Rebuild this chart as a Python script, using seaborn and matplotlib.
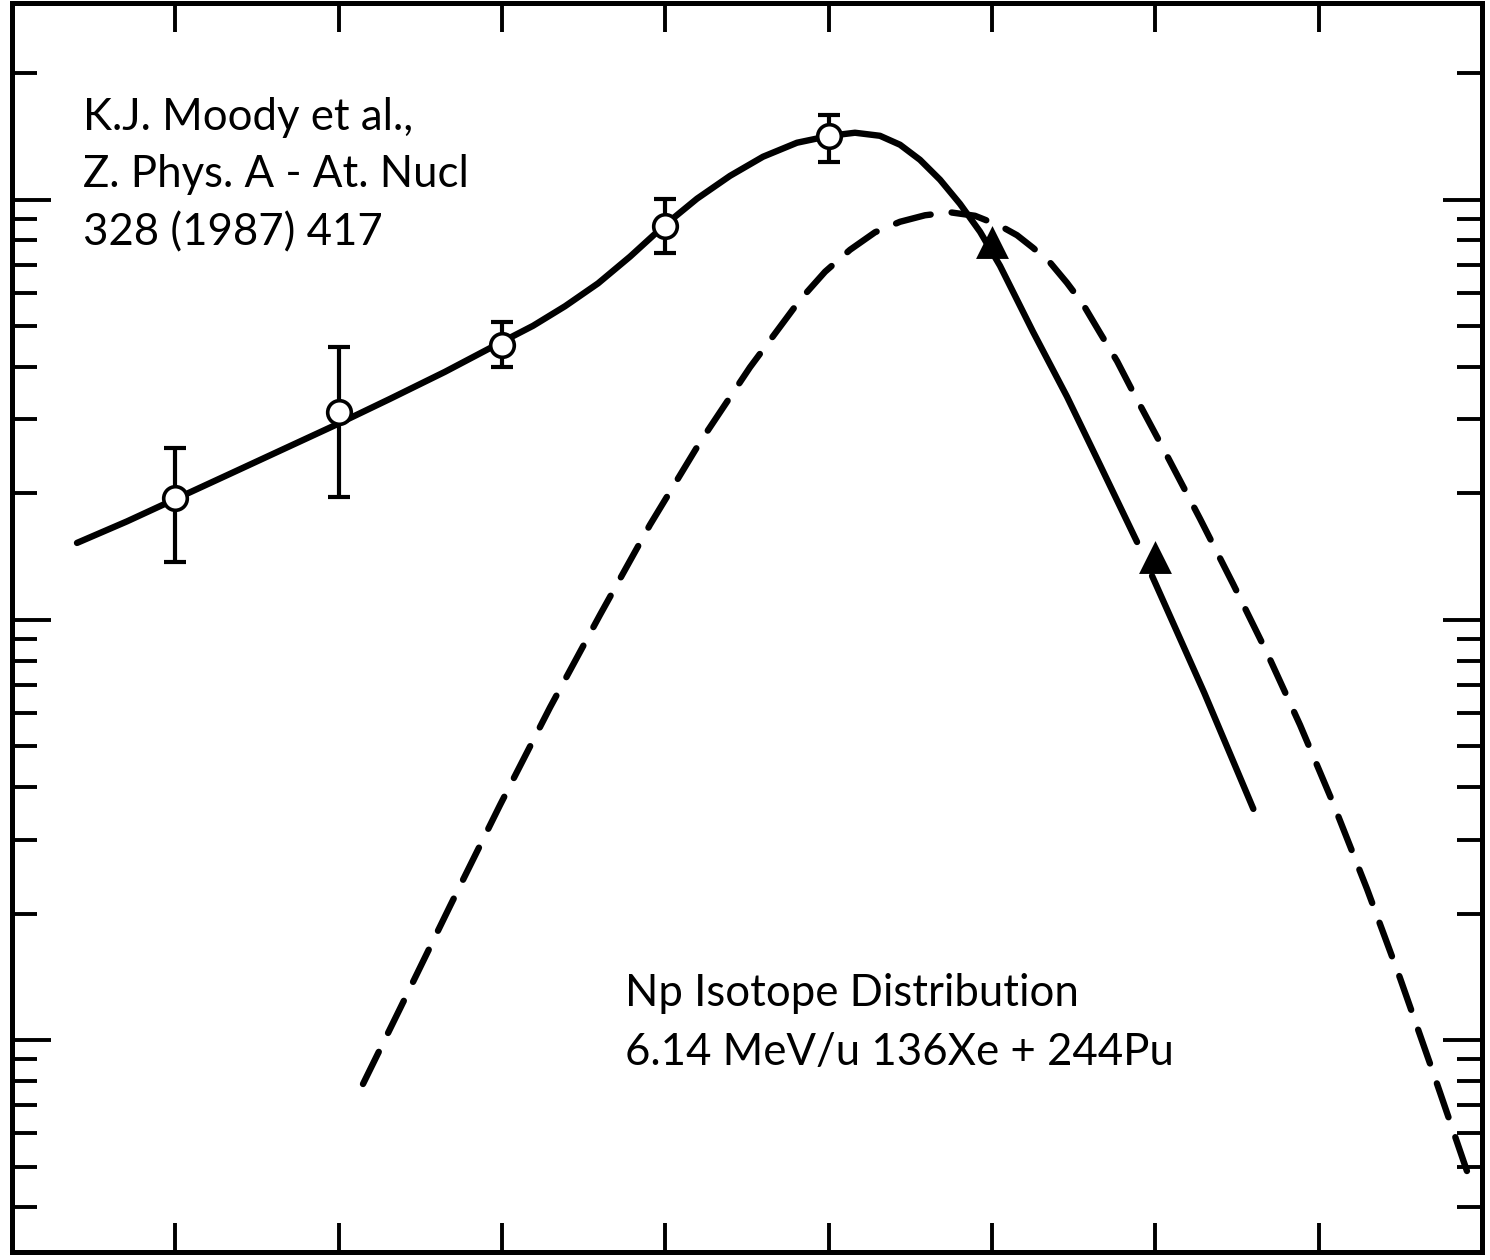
import numpy as np
import pandas as pd
import matplotlib
matplotlib.use("Agg")
import matplotlib.pyplot as plt
import seaborn as sns
from matplotlib.ticker import LogLocator, NullFormatter, FixedLocator

# ---------------- data (mass number A, yield) ----------------
circle_A = [235, 236, 237, 238, 239]
circle_y = [1.95, 3.13, 4.52, 8.67, 14.15]
circle_err_lo = [1.37, 1.96, 4.00, 7.48, 12.27]
circle_err_hi = [2.57, 4.47, 5.12, 10.05, 15.94]

triangle_A = [240, 241]
triangle_y = [7.94, 1.41]

solid_A = [234.398, 234.704, 235.016, 235.335, 235.659, 235.990, 236.314,
           236.651, 236.988, 237.190, 237.386, 237.588, 237.784, 237.986,
           238.194, 238.396, 238.598, 238.806, 239.008, 239.161, 239.314,
           239.437, 239.559, 239.682, 239.804, 239.927, 240.049, 240.251,
           240.459, 240.661, 240.888]
solid_y = [1.525, 1.716, 1.952, 2.227, 2.547, 2.921, 3.358,
           3.895, 4.565, 5.012, 5.580, 6.324, 7.323, 8.635,
           10.06, 11.40, 12.66, 13.67, 14.20, 14.44, 14.20,
           13.52, 12.45, 11.16, 9.78, 8.39, 6.965, 4.851,
           3.40, 2.34, 1.533]

solid2_A = [240.98, 241.30, 241.60]
solid2_y = [1.273, 0.670, 0.355]

dashed_A = [236.149, 236.376, 236.682, 236.988, 237.294, 237.600, 237.906,
            238.212, 238.518, 238.825, 238.978, 239.131, 239.284, 239.437,
            239.590, 239.743, 239.896, 240.049, 240.153, 240.251, 240.355,
            240.459, 240.557, 240.661, 240.766, 240.863, 241.072, 241.274,
            241.476, 241.684, 241.886, 242.088, 242.296, 242.498, 242.700,
            242.927]
dashed_y = [0.0786, 0.1189, 0.2085, 0.3626, 0.6190, 1.028, 1.684,
            2.647, 3.992, 5.780, 6.741, 7.603, 8.369, 8.864,
            9.186, 9.337, 9.160, 8.673, 8.236, 7.686, 7.093,
            6.344, 5.644, 4.825, 4.128, 3.490, 2.458, 1.740,
            1.218, 0.8345, 0.5623, 0.3666, 0.2289, 0.1405, 0.0839,
            0.0464]

x_ticks = [235, 236, 237, 238, 239, 240, 241, 242]

ref_lines = ["K.J. Moody et al.,", "Z. Phys. A - At. Nucl", "328 (1987) 417"]
title_lines = ["Np Isotope Distribution", "6.14 MeV/u 136Xe + 244Pu"]

# ---------------- style ----------------
sns.set_theme(style="white")
plt.rcParams['font.family'] = ['Lato', 'DejaVu Sans']

fig = plt.figure(figsize=(14.9, 12.6), dpi=100)
ax = fig.add_axes([12 / 1490, 8 / 1260, 1470 / 1490, 1249 / 1260])

ink = "#000000"

df_solid = pd.DataFrame({"A": solid_A, "y": solid_y})
df_solid2 = pd.DataFrame({"A": solid2_A, "y": solid2_y})
df_dash = pd.DataFrame({"A": dashed_A, "y": dashed_y})

sns.lineplot(data=df_solid, x="A", y="y", ax=ax, color=ink, lw=4.6,
             sort=False, estimator=None, zorder=2)
ax.lines[-1].set_solid_capstyle("round")
ax.lines[-1].set_solid_joinstyle("round")
sns.lineplot(data=df_solid2, x="A", y="y", ax=ax, color=ink, lw=4.6,
             sort=False, estimator=None, zorder=2)
ax.lines[-1].set_solid_capstyle("round")
ax.lines[-1].set_solid_joinstyle("round")
sns.lineplot(data=df_dash, x="A", y="y", ax=ax, color=ink, lw=4.6,
             sort=False, estimator=None, zorder=2)
ax.lines[-1].set_dashes((5.6, 3.3))
ax.lines[-1].set_dash_capstyle("round")
ax.lines[-1].set_dash_joinstyle("round")

cy = np.array(circle_y)
yerr = np.vstack([cy - np.array(circle_err_lo), np.array(circle_err_hi) - cy])
ax.errorbar(circle_A, circle_y, yerr=yerr, fmt="none", ecolor=ink,
            elinewidth=3.0, capsize=8, capthick=3.0, zorder=3)
ax.plot(circle_A, circle_y, linestyle="none", marker="o", markersize=17,
        markerfacecolor="white", markeredgecolor=ink, markeredgewidth=2.6,
        zorder=4)
sns.scatterplot(x=triangle_A, y=triangle_y, ax=ax, marker="^", s=560,
                color=ink, edgecolor=ink, linewidth=0, zorder=5)

ax.set_yscale("log")
ax.set_xlim(234.0, 243.0)
ax.set_ylim(0.0313, 29.4)

ax.xaxis.set_major_locator(FixedLocator(x_ticks))
ax.yaxis.set_major_locator(LogLocator(base=10, numticks=10))
ax.yaxis.set_minor_locator(LogLocator(base=10, subs=np.arange(2, 10), numticks=20))
ax.xaxis.set_major_formatter(NullFormatter())
ax.yaxis.set_major_formatter(NullFormatter())
ax.yaxis.set_minor_formatter(NullFormatter())

ax.tick_params(axis="x", which="major", direction="in", length=21, width=2.8,
               top=True, bottom=True, color=ink)
ax.tick_params(axis="x", which="minor", bottom=False, top=False)
ax.tick_params(axis="y", which="major", direction="in", length=28, width=2.8,
               left=True, right=True, color=ink)
ax.tick_params(axis="y", which="minor", direction="in", length=18, width=2.8,
               left=True, right=True, color=ink)
for s in ax.spines.values():
    s.set_linewidth(3.6)
    s.set_color(ink)
ax.set_xlabel("")
ax.set_ylabel("")
ax.grid(False)

fs = 31.5
for txt, yb in zip(ref_lines, [0.898, 0.853, 0.806]):
    ax.text(0.0483, yb, txt, transform=ax.transAxes, fontsize=fs,
            va="baseline", ha="left", color=ink)
for txt, yb in zip(title_lines, [0.197, 0.1497]):
    ax.text(0.417, yb, txt, transform=ax.transAxes, fontsize=fs,
            va="baseline", ha="left", color=ink)

fig.savefig("out.png", dpi=100, facecolor="white")
